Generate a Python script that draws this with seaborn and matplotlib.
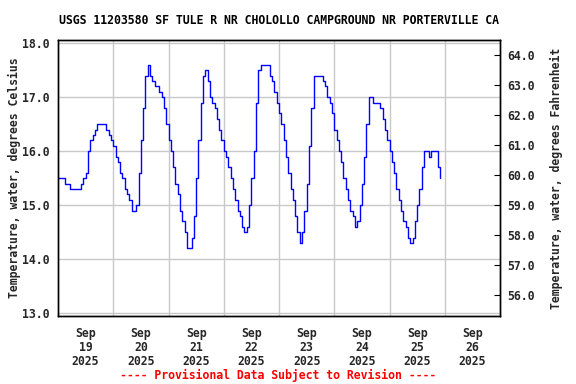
import numpy as np
import pandas as pd
import matplotlib
matplotlib.use("Agg")
import matplotlib.pyplot as plt
import matplotlib.dates as mdates
import seaborn as sns

title = "USGS 11203580 SF TULE R NR CHOLOLLO CAMPGROUND NR PORTERVILLE CA"
ylabel_left = "Temperature, water, degrees Celsius"
ylabel_right = "Temperature, water, degrees Fahrenheit"
footer = "---- Provisional Data Subject to Revision ----"

start_time = "2025-09-19 00:00"
# hourly water temperature (deg C)
temp_sep19 = [15.5, 15.5, 15.5, 15.4, 15.4, 15.3, 15.3, 15.3, 15.3, 15.3, 15.4, 15.5,
              15.6, 16.0, 16.2, 16.3, 16.4, 16.5, 16.5, 16.5, 16.5, 16.4, 16.3, 16.2]
temp_sep20 = [16.1, 15.9, 15.8, 15.6, 15.5, 15.3, 15.2, 15.1, 14.9, 14.9, 15.0, 15.6,
              16.2, 16.8, 17.4, 17.6, 17.4, 17.3, 17.2, 17.2, 17.1, 17.0, 16.8, 16.5]
temp_sep21 = [16.2, 16.0, 15.7, 15.4, 15.2, 14.9, 14.7, 14.5, 14.2, 14.2, 14.4, 14.8,
              15.5, 16.2, 16.9, 17.4, 17.5, 17.3, 17.0, 16.9, 16.8, 16.6, 16.4, 16.2]
temp_sep22 = [16.0, 15.9, 15.7, 15.5, 15.3, 15.1, 14.9, 14.8, 14.6, 14.5, 14.6, 15.0,
              15.5, 16.0, 16.9, 17.5, 17.6, 17.6, 17.6, 17.6, 17.4, 17.3, 17.1, 16.9]
temp_sep23 = [16.7, 16.5, 16.2, 15.9, 15.6, 15.3, 15.1, 14.8, 14.5, 14.3, 14.5, 14.9,
              15.4, 16.1, 16.8, 17.4, 17.4, 17.4, 17.4, 17.3, 17.2, 17.0, 16.9, 16.7]
temp_sep24 = [16.4, 16.2, 16.0, 15.8, 15.5, 15.3, 15.1, 14.9, 14.8, 14.6, 14.7, 15.0,
              15.4, 15.9, 16.5, 17.0, 17.0, 16.9, 16.9, 16.9, 16.8, 16.6, 16.4, 16.2]
temp_sep25 = [16.0, 15.8, 15.6, 15.3, 15.1, 14.9, 14.7, 14.6, 14.4, 14.3, 14.4, 14.7,
              15.0, 15.3, 15.7, 16.0, 16.0, 15.9, 16.0, 16.0, 16.0, 15.7, 15.5]

day_labels = ["Sep\n19\n2025", "Sep\n20\n2025", "Sep\n21\n2025", "Sep\n22\n2025",
              "Sep\n23\n2025", "Sep\n24\n2025", "Sep\n25\n2025", "Sep\n26\n2025"]
c_ticks = [13.0, 14.0, 15.0, 16.0, 17.0, 18.0]
f_ticks = [56.0, 57.0, 58.0, 59.0, 60.0, 61.0, 62.0, 63.0, 64.0]

temps = (temp_sep19 + temp_sep20 + temp_sep21 + temp_sep22 + temp_sep23
         + temp_sep24 + temp_sep25)
times = pd.date_range(start_time, periods=len(temps), freq="h")
df = pd.DataFrame({"time": times, "temp": temps})

sns.set_theme(style="white")
font = ["DejaVu Sans Mono", "DejaVu Sans"]
plt.rcParams["font.family"] = font
plt.rcParams["font.weight"] = "bold"
fs = 8.3

fig = plt.figure(figsize=(5.76, 3.84), dpi=100)
ax = fig.add_axes([58 / 576, 1 - 316 / 384, 442 / 576, 276 / 384])

sns.lineplot(data=df, x="time", y="temp", ax=ax, color="#0000ff",
             linewidth=1.0, drawstyle="steps-post")

ax.set_xlim(pd.Timestamp("2025-09-19"), pd.Timestamp("2025-09-27"))
ylo, yhi = 12.95, 18.06
ax.set_ylim(ylo, yhi)

noon = pd.date_range("2025-09-19 12:00", periods=8, freq="D")
midnight = pd.date_range("2025-09-20", periods=7, freq="D")
ax.set_xticks(noon)
ax.set_xticklabels(day_labels, fontsize=fs, fontweight="bold", linespacing=1.1)
ax.set_xticks(midnight, minor=True)
ax.set_yticks(c_ticks)
ax.set_yticklabels([f"{v:.1f}" for v in c_ticks], fontsize=fs, fontweight="bold")
ax.tick_params(axis="x", which="both", length=0, pad=8)
ax.tick_params(axis="y", which="both", length=0, pad=6)
ax.grid(False)
ax.grid(True, axis="x", which="minor", color="#c8c8c8", linewidth=1.0)
ax.grid(True, axis="y", which="major", color="#c8c8c8", linewidth=1.0)
ax.set_xlabel("")
ax.set_ylabel(ylabel_left, fontsize=fs, fontweight="bold", labelpad=1)
for s in ax.spines.values():
    s.set_color("black")
    s.set_linewidth(1.0)

ax2 = ax.twinx()
ax2.set_ylim(ylo * 1.8 + 32, yhi * 1.8 + 32)
ax2.set_yticks(f_ticks)
ax2.set_yticklabels([f"{v:.1f}" for v in f_ticks], fontsize=fs, fontweight="bold")
ax2.tick_params(axis="y", direction="in", length=4, width=0.8, pad=5, color="black")
ax2.set_ylabel(ylabel_right, fontsize=fs, fontweight="bold", labelpad=11)
ax2.grid(False)
for s in ax2.spines.values():
    s.set_color("black")
    s.set_linewidth(1.0)

fig.text(279 / 576, 1 - 21 / 384, title, ha="center", va="center",
         fontsize=fs, fontweight="bold", color="black")
fig.text(278 / 576, 1 - 375 / 384, footer, ha="center", va="center",
         fontsize=fs, fontweight="bold", color="#ff0000")

fig.savefig("out.png", dpi=100)
